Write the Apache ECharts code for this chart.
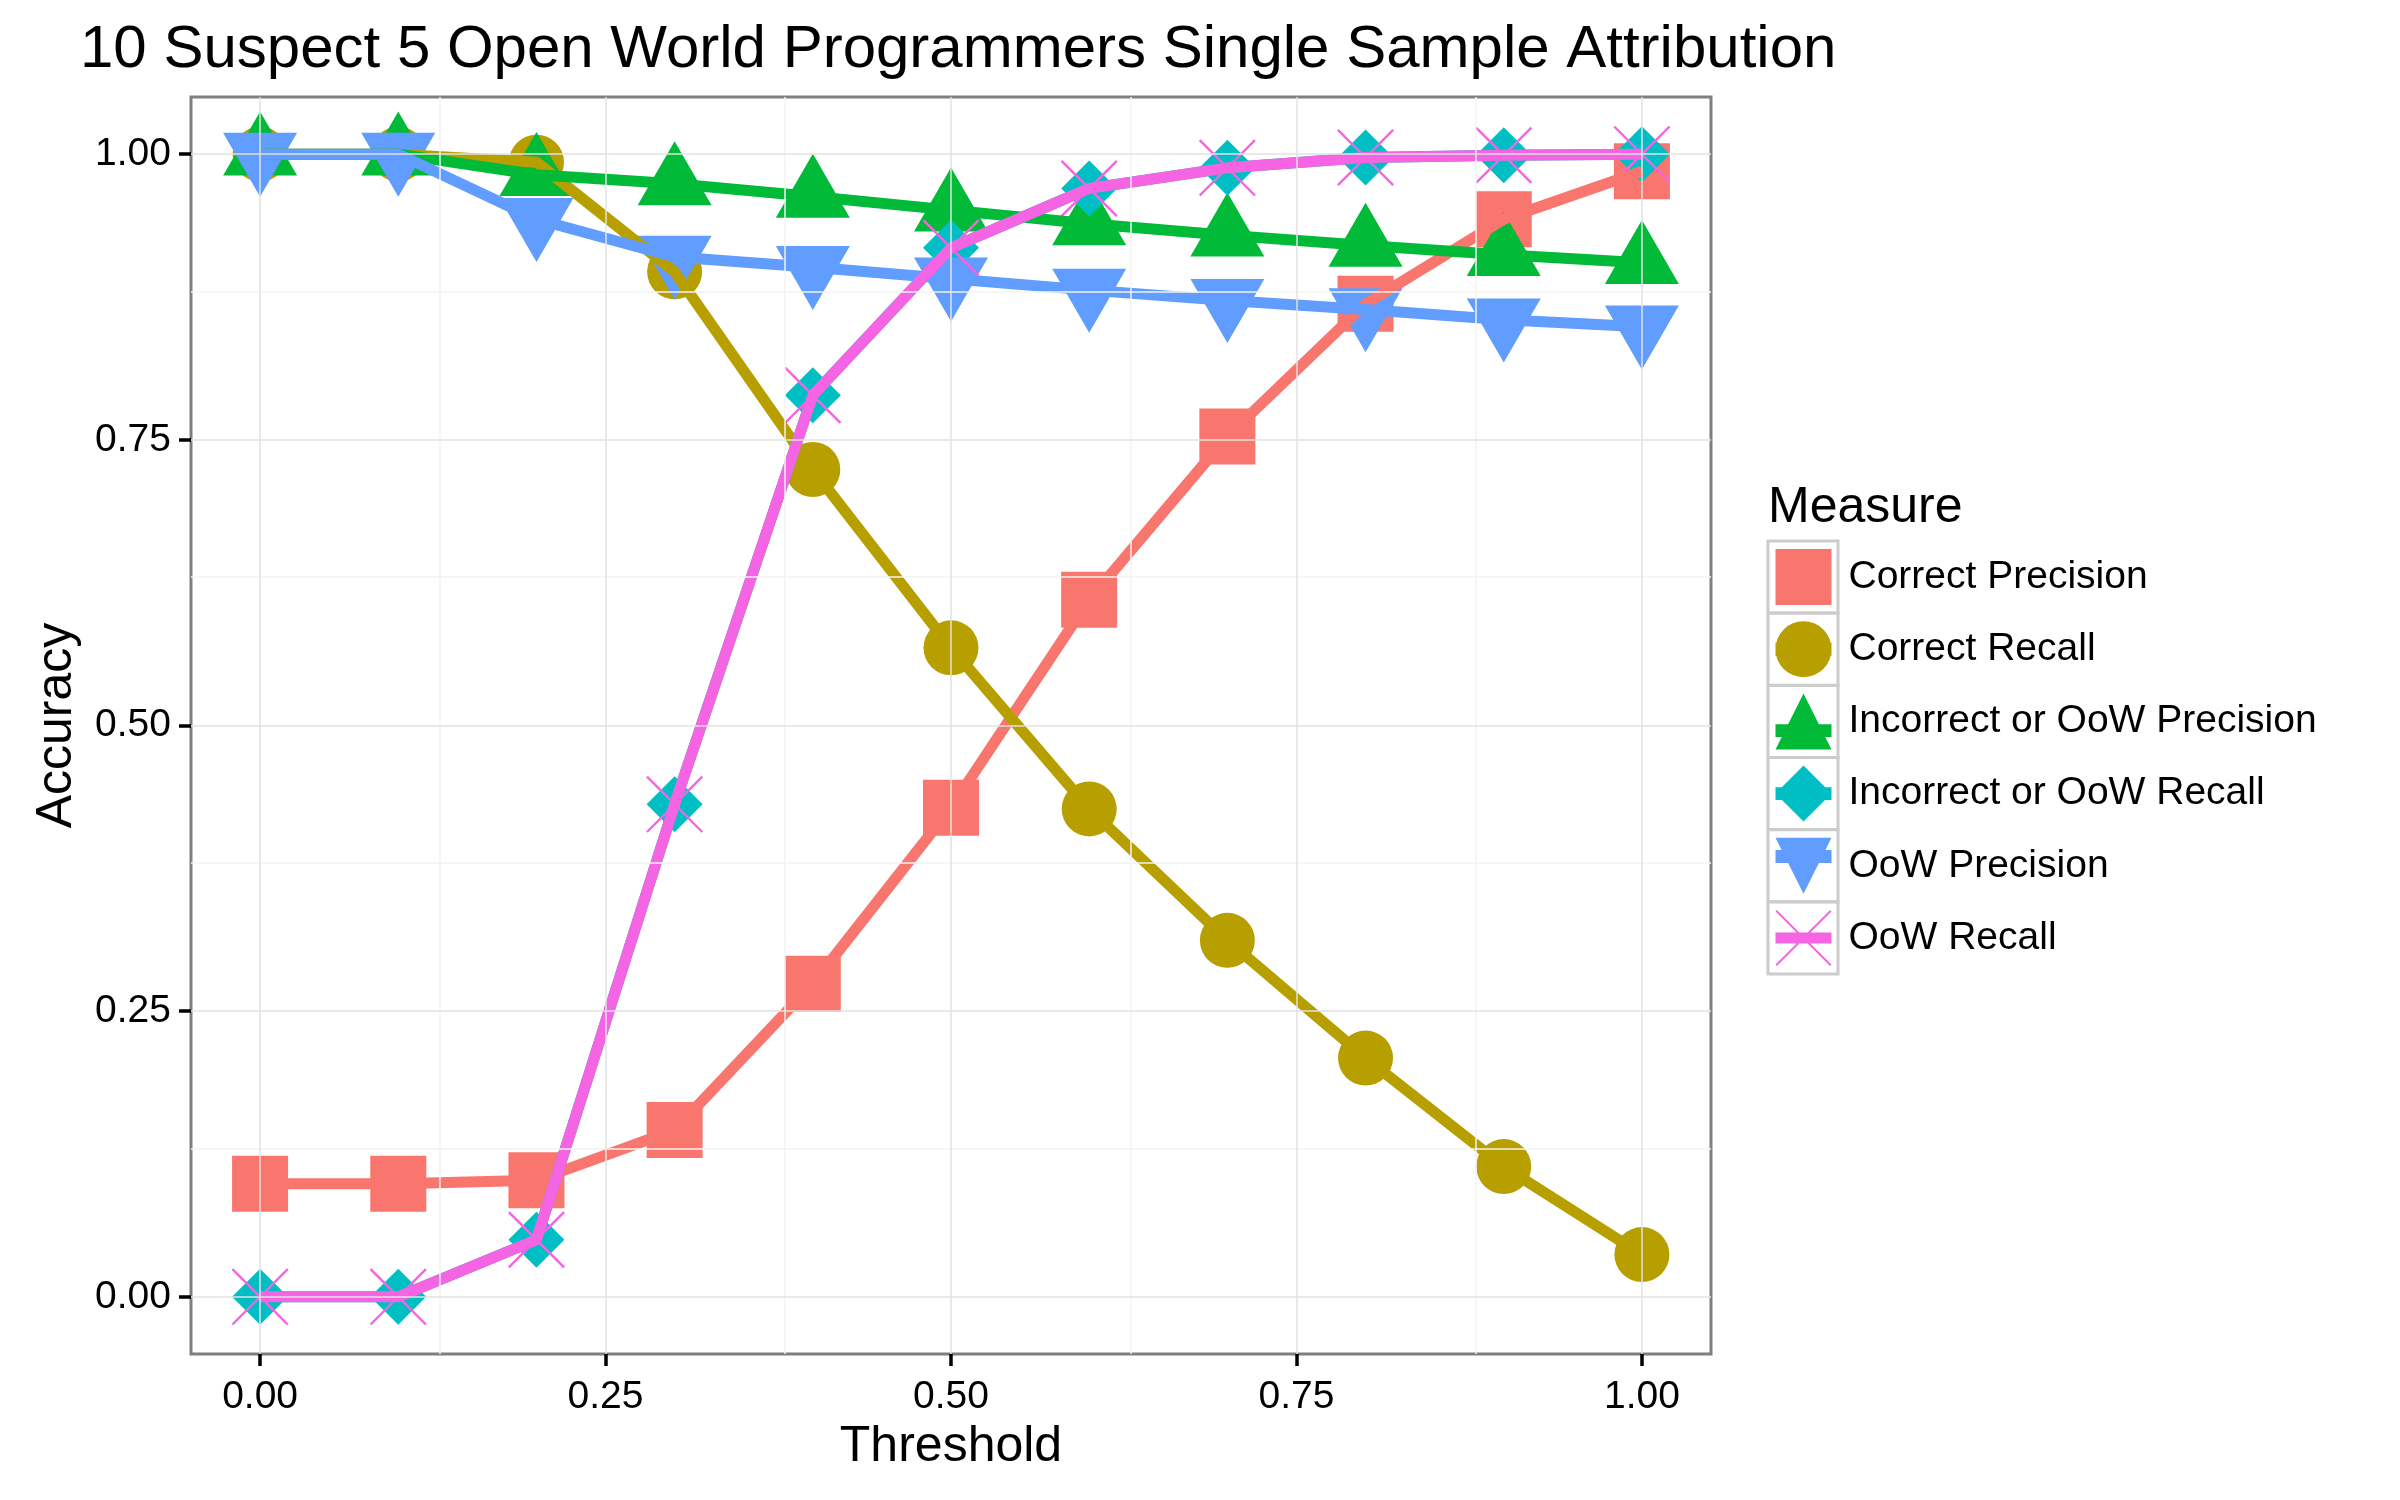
<!DOCTYPE html>
<html>
<head>
<meta charset="utf-8">
<script src="https://cdn.jsdelivr.net/npm/echarts@6/dist/echarts.min.js"></script>
<style>
  html, body { margin: 0; padding: 0; background: #fff; }
  #chart { width: 2400px; height: 1500px; }
</style>
</head>
<body>
<div id="chart"></div>
<script>
  // data
  const thresholds = [0, 0.1, 0.2, 0.3, 0.4, 0.5, 0.6, 0.7, 0.8, 0.9, 1.0];
  const correctPrecision = [0.099, 0.099, 0.102, 0.146, 0.274, 0.428, 0.610, 0.753, 0.869, 0.943, 0.985];
  const correctRecall = [1.0, 1.0, 0.993, 0.897, 0.724, 0.568, 0.427, 0.312, 0.209, 0.114, 0.037];
  const incorrectPrecision = [1.0, 1.0, 0.982, 0.974, 0.963, 0.951, 0.939, 0.929, 0.920, 0.912, 0.905];
  const incorrectRecall = [0, 0, 0.05, 0.431, 0.789, 0.918, 0.970, 0.988, 0.997, 0.999, 1.0];
  const oowPrecision = [1.0, 1.0, 0.943, 0.910, 0.901, 0.891, 0.881, 0.872, 0.864, 0.855, 0.849];
  const oowRecall = [0, 0, 0.05, 0.431, 0.789, 0.918, 0.970, 0.988, 0.997, 0.999, 1.0];

  const measures = ['Correct Precision', 'Correct Recall', 'Incorrect or OoW Precision',
    'Incorrect or OoW Recall', 'OoW Precision', 'OoW Recall'];
  const values = [correctPrecision, correctRecall, incorrectPrecision, incorrectRecall, oowPrecision, oowRecall];
  const colors = ['#F8766D', '#B79F00', '#00BA38', '#00BFC4', '#619CFF', '#F564E3'];

  const xTicks = [0, 0.25, 0.5, 0.75, 1];
  const yTicks = [0, 0.25, 0.5, 0.75, 1];
  const xMinor = [0.125, 0.375, 0.625, 0.875];
  const yMinor = [0.125, 0.375, 0.625, 0.875];

  const FONT = 'Liberation Sans, Arial, sans-serif';

  // symbols on the plot
  const xPath = 'path://M0,3 L3,0 L100,97 L97,100 Z M97,0 L100,3 L3,100 L0,97 Z';
  const plotSymbols = [
    { symbol: 'rect', size: [56, 56], offset: [0, 0] },
    { symbol: 'circle', size: 55, offset: [0, 0] },
    { symbol: 'triangle', size: [74, 64], offset: [0, -10.7] },
    { symbol: 'diamond', size: [56, 56], offset: [0, 0] },
    { symbol: 'path://M0,0 L100,0 L50,100 Z', size: [74, 64], offset: [0, 10.7] },
    { symbol: xPath, size: [57, 57], offset: [0, 0] }
  ];

  // legend icons: marker with the thick line behind it
  const legendIcons = [
    'rect',
    'path://M0,50 A50,50 0 1,1 100,50 A50,50 0 1,1 0,50 Z M0,38.5 L100,38.5 L100,61.5 L0,61.5 Z',
    'path://M50,0 L100,100 L0,100 Z M0,55 L100,55 L100,78 L0,78 Z',
    'path://M50,0 L100,50 L50,100 L0,50 Z M0,38.5 L100,38.5 L100,61.5 L0,61.5 Z',
    'path://M0,0 L100,0 L50,100 Z M0,22 L100,22 L100,45 L0,45 Z',
    'path://M0,2.5 L2.5,0 L100,97.5 L97.5,100 Z M97.5,0 L100,2.5 L2.5,100 L0,97.5 Z M0,40 L100,40 L100,60 L0,60 Z'
  ];

  const pointSeries = measures.map((name, i) => ({
    name: name,
    type: 'scatter',
    z: 2,
    symbol: plotSymbols[i].symbol,
    symbolSize: plotSymbols[i].size,
    symbolOffset: plotSymbols[i].offset,
    itemStyle: { color: colors[i], opacity: 1 },
    data: thresholds.map((t, j) => [t, values[i][j]])
  }));

  const lineSeries = measures.map((name, i) => ({
    name: name,
    type: 'line',
    z: 3,
    showSymbol: false,
    symbol: 'none',
    lineStyle: { color: colors[i], width: 11 },
    itemStyle: { color: colors[i] },
    data: thresholds.map((t, j) => [t, values[i][j]])
  }));

  const majorStyle = { color: '#e2e2e2', width: 1.5, type: 'solid' };
  const minorStyle = { color: '#f3f3f3', width: 1.5, type: 'solid' };
  const gridSeries = {
    type: 'line',
    z: 1,
    silent: true,
    data: [],
    markLine: {
      silent: true,
      symbol: 'none',
      label: { show: false },
      animation: false,
      data: [
        ...xMinor.map(v => ({ xAxis: v, lineStyle: minorStyle })),
        ...yMinor.map(v => ({ yAxis: v, lineStyle: minorStyle })),
        ...xTicks.map(v => ({ xAxis: v, lineStyle: majorStyle })),
        ...yTicks.map(v => ({ yAxis: v, lineStyle: majorStyle }))
      ]
    }
  };

  // grey frames around legend keys
  const keyBoxes = measures.map((m, i) => ({
    type: 'rect',
    shape: { x: 1768, y: 541 + i * 72.2, width: 70, height: 72 },
    style: { fill: '#fff', stroke: '#cccccc', lineWidth: 3 }
  }));

  const chart = echarts.init(document.getElementById('chart'));
  chart.setOption({
    animation: false,
    backgroundColor: '#fff',
    textStyle: { fontFamily: FONT },
    title: [
      {
        text: '10 Suspect 5 Open World Programmers Single Sample Attribution',
        left: 80, top: 20, padding: 0,
        textStyle: { fontFamily: FONT, fontSize: 60, fontWeight: 'normal', color: '#000' }
      },
      {
        text: 'Measure',
        left: 1768, top: 483, padding: 0,
        textStyle: { fontFamily: FONT, fontSize: 50, fontWeight: 'normal', color: '#000' }
      }
    ],
    graphic: { elements: keyBoxes, z: 1 },
    legend: {
      orient: 'vertical',
      left: 1775.5,
      top: 549,
      padding: 0,
      itemWidth: 56,
      itemHeight: 56,
      itemGap: 16.2,
      selectedMode: false,
      z: 5,
      data: measures.map((m, i) => ({ name: m, icon: legendIcons[i] })),
      textStyle: { fontFamily: FONT, fontSize: 39, color: '#000', padding: [0, 0, 0, 12] }
    },
    grid: {
      left: 191, top: 97, width: 1520, height: 1257,
      show: true,
      backgroundColor: '#fff',
      borderColor: '#7f7f7f',
      borderWidth: 3
    },
    xAxis: {
      type: 'value',
      min: -0.05, max: 1.05,
      name: 'Threshold',
      nameLocation: 'middle',
      nameGap: 66,
      nameTextStyle: { fontFamily: FONT, fontSize: 50, color: '#000' },
      axisLine: { show: false, onZero: false },
      splitLine: { show: false },
      axisTick: { show: true, customValues: xTicks, length: 12, lineStyle: { color: '#000', width: 3.5 } },
      axisLabel: {
        customValues: xTicks, margin: 24,
        fontFamily: FONT, fontSize: 39, color: '#000',
        formatter: v => v.toFixed(2)
      }
    },
    yAxis: {
      type: 'value',
      min: -0.05, max: 1.05,
      name: 'Accuracy',
      nameLocation: 'middle',
      nameGap: 109,
      nameRotate: 90,
      nameTextStyle: { fontFamily: FONT, fontSize: 50, color: '#000' },
      axisLine: { show: false, onZero: false },
      splitLine: { show: false },
      axisTick: { show: true, customValues: yTicks, length: 12, lineStyle: { color: '#000', width: 3.5 } },
      axisLabel: {
        customValues: yTicks, margin: 20,
        fontFamily: FONT, fontSize: 39, color: '#000',
        formatter: v => v.toFixed(2)
      }
    },
    series: [gridSeries, ...pointSeries, ...lineSeries]
  });
</script>
</body>
</html>
